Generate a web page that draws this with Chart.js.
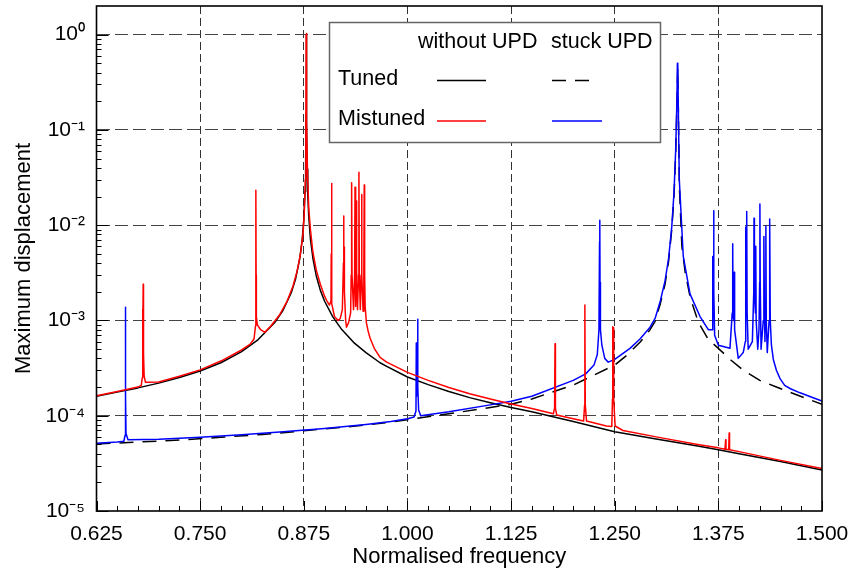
<!DOCTYPE html>
<html>
<head>
<meta charset="utf-8">
<script src="https://cdn.jsdelivr.net/npm/chart.js@4/dist/chart.umd.min.js"></script>
<style>
html,body{margin:0;padding:0;background:#fff;}
#c{display:block;}
</style>
</head>
<body>
<canvas id="c" width="851" height="573"></canvas>
<script>
// ---------------- data ----------------
// each point: [normalised frequency, maximum displacement]
const tunedWithoutUPD = [
  [0.625,1.6e-4],[0.65,1.77e-4],[0.675,1.96e-4],[0.7,2.2e-4],[0.725,2.52e-4],[0.75,2.95e-4],
  [0.775,3.6e-4],[0.8,4.7e-4],[0.82,6.3e-4],[0.84,9.5e-4],[0.85,1.28e-3],[0.86,1.97e-3],
  [0.865,2.7e-3],[0.87,4.4e-3],[0.873,6.9e-3],[0.875,1.13e-2],[0.8765,2.25e-2],[0.8772,4.0e-2],
  [0.8777,1.5e-1],[0.8781,1.0],[0.8785,1.2e-1],[0.879,3.9e-2],[0.8798,2.1e-2],[0.881,1.22e-2],
  [0.883,7.2e-3],[0.886,4.5e-3],[0.89,2.95e-3],[0.895,2.07e-3],[0.9,1.6e-3],[0.91,1.09e-3],
  [0.92,8.2e-4],[0.935,5.9e-4],[0.95,4.6e-4],[0.967,3.6e-4],[0.975,3.3e-4],[1.0,2.55e-4],
  [1.025,2.12e-4],[1.05,1.8e-4],[1.075,1.55e-4],[1.1,1.37e-4],[1.125,1.22e-4],[1.15,1.1e-4],
  [1.2,8.7e-5],[1.25,6.8e-5],[1.3,5.7e-5],[1.35,4.8e-5],[1.375,4.4e-5],[1.4,4.0e-5],
  [1.45,3.3e-5],[1.5,2.7e-5]
];
const mistunedWithoutUPD = [
  [0.625,1.62e-4],[0.65,1.8e-4],[0.675,2.0e-4],[0.679,2.08e-4],[0.6802,2.5e-4],[0.6805,1.3e-3],
  [0.6808,3.5e-4],[0.681,6e-4],[0.6813,2.4e-3],[0.6817,4.5e-4],[0.6825,2.6e-4],[0.684,2.25e-4],
  [0.7,2.26e-4],[0.725,2.6e-4],[0.75,3.03e-4],[0.775,3.75e-4],[0.8,4.9e-4],[0.81,5.6e-4],
  [0.815,6.4e-4],[0.8168,8.8e-4],[0.8171,3e-3],[0.8173,2.33e-2],[0.8175,3e-3],[0.8178,1.1e-3],
  [0.819,9e-4],[0.823,8.0e-4],[0.828,7.5e-4],[0.835,8.7e-4],[0.846,1.15e-3],[0.855,1.6e-3],
  [0.862,2.3e-3],[0.867,3.3e-3],[0.871,5.0e-3],[0.874,8.0e-3],[0.8755,1.3e-2],[0.8768,3.0e-2],
  [0.8775,1.0e-1],[0.8778,1.0],[0.878,2.5e-1],[0.8783,1.03],[0.8787,1.2e-1],[0.8795,3.5e-2],
  [0.881,1.5e-2],[0.883,9e-3],[0.886,5.2e-3],[0.89,3.4e-3],[0.895,2.4e-3],[0.9,1.8e-3],
  [0.903,1.6e-3],[0.906,1.45e-3],[0.9078,1.6e-3],[0.9081,5e-3],[0.9084,2.74e-2],[0.9087,4e-3],
  [0.909,1.5e-3],[0.912,1.1e-3],[0.9165,1.0e-3],[0.919,1.05e-3],[0.9215,1.3e-3],[0.9228,4e-3],
  [0.9231,1.25e-2],[0.9234,3e-3],[0.9237,5.9e-3],[0.924,2e-3],[0.9255,1.0e-3],[0.9265,8.5e-4],
  [0.929,9.5e-4],[0.9315,1.2e-3],[0.9322,3e-3],[0.9327,2.79e-2],[0.9332,3e-3],[0.935,1.3e-3],
  [0.9363,3e-3],[0.9368,2.5e-2],[0.9373,3e-3],[0.9378,1.4e-3],[0.938,3e-3],[0.9385,1.8e-2],
  [0.939,2.5e-3],[0.9398,1.3e-3],[0.941,3e-3],[0.9415,3.6e-2],[0.942,3e-3],[0.9432,1.3e-3],
  [0.9442,3e-3],[0.9447,2.1e-2],[0.9452,3e-3],[0.9465,1.25e-3],[0.9474,3e-3],[0.9479,2.65e-2],
  [0.9484,3e-3],[0.949,1.4e-3],[0.9505,9.5e-4],[0.9525,7.8e-4],[0.955,6.5e-4],[0.96,5.1e-4],
  [0.967,4.1e-4],[0.975,3.65e-4],[1.0,2.85e-4],[1.025,2.35e-4],[1.05,1.98e-4],[1.075,1.7e-4],
  [1.1,1.5e-4],[1.125,1.33e-4],[1.15,1.19e-4],[1.176,1.05e-4],[1.1775,1.2e-4],
  [1.178,5.7e-4],[1.1785,1.2e-4],[1.18,1.02e-4],[1.2,9.3e-5],[1.2125,8.8e-5],[1.2137,1.3e-4],
  [1.214,1.45e-3],[1.2145,1.3e-4],[1.216,8.8e-5],[1.24,7.8e-5],[1.2465,7.7e-5],[1.2473,1.5e-4],
  [1.2476,8.6e-4],[1.248,3e-4],[1.2485,8.4e-4],[1.249,1.5e-4],[1.2505,7.8e-5],[1.26,7.0e-5],
  [1.3,6.0e-5],[1.35,5.0e-5],[1.375,4.6e-5],[1.383,4.45e-5],[1.3838,5.6e-5],[1.3842,4.45e-5],
  [1.3875,4.4e-5],[1.388,6.6e-5],[1.3885,4.4e-5],[1.4,4.2e-5],[1.45,3.4e-5],[1.5,2.8e-5]
];
const tunedStuckUPD = [
  [0.625,5.05e-5],[0.675,5.3e-5],[0.725,5.55e-5],[0.775,5.95e-5],[0.825,6.35e-5],[0.875,6.95e-5],
  [0.925,7.6e-5],[0.975,8.45e-5],[1.0,9.1e-5],[1.05,1.05e-4],[1.1,1.22e-4],[1.125,1.32e-4],
  [1.15,1.5e-4],[1.2,2.1e-4],[1.25,3.4e-4],[1.2644,4.3e-4],[1.2805,5.9e-4],[1.2926,8.0e-4],
  [1.2987,9.8e-4],[1.305,1.5e-3],[1.3107,2.4e-3],[1.315,4.2e-3],[1.3188,9e-3],[1.3215,2.0e-2],
  [1.3235,5.5e-2],[1.325,1.8e-1],[1.326,4.5e-1],[1.3268,1.5e-1],[1.328,2.5e-2],[1.331,6e-3],
  [1.335,3.2e-3],[1.341,1.75e-3],[1.351,9.5e-4],[1.363,6.3e-4],[1.375,5.1e-4],[1.39,3.85e-4],
  [1.405,3.0e-4],[1.425,2.35e-4],[1.445,2.0e-4],[1.47,1.65e-4],[1.5,1.32e-4]
];
const mistunedStuckUPD = [
  [0.625,5.15e-5],[0.65,5.3e-5],[0.658,5.4e-5],[0.6594,6.2e-5],[0.6598,1.6e-4],[0.66,1.38e-3],
  [0.6602,1.6e-4],[0.6606,6.5e-5],[0.663,5.6e-5],[0.7,5.65e-5],[0.75,5.95e-5],[0.8,6.3e-5],
  [0.85,6.8e-5],[0.9,7.35e-5],[0.95,8.1e-5],[0.98,8.7e-5],[1.0,9.3e-5],[1.008,9.7e-5],
  [1.0103,1.12e-4],[1.0107,5.8e-4],[1.011,1.6e-4],[1.0118,2.0e-4],[1.0123,1.03e-3],[1.0127,2.0e-4],
  [1.0135,1.15e-4],[1.016,1.0e-4],[1.05,1.1e-4],[1.1,1.3e-4],[1.125,1.42e-4],[1.15,1.6e-4],
  [1.2,2.35e-4],[1.215,2.75e-4],[1.225,3.4e-4],[1.229,4.4e-4],[1.231,8e-4],[1.2317,6.7e-3],
  [1.232,1.13e-2],[1.2323,2.5e-3],[1.2328,8e-4],[1.2345,5.5e-4],[1.238,4.0e-4],[1.2422,3.65e-4],
  [1.25,3.9e-4],[1.2684,5.1e-4],[1.2805,6.4e-4],[1.2926,8.5e-4],[1.2987,1.05e-3],[1.305,1.6e-3],
  [1.3107,2.6e-3],[1.315,4.5e-3],[1.3188,9.6e-3],[1.3215,2.2e-2],[1.3235,6.0e-2],[1.325,2.0e-1],
  [1.3256,5.0e-1],[1.3259,3.0e-1],[1.3262,4.9e-1],[1.3266,2.0e-1],[1.3279,3.0e-2],[1.3327,4.7e-3],
  [1.3408,1.9e-3],[1.3529,1.1e-3],[1.3629,8.0e-4],[1.3675,8.0e-4],[1.368,4.7e-3],[1.3685,1.5e-3],
  [1.369,2e-3],[1.3693,1.42e-2],[1.3697,2e-3],[1.3705,7e-4],[1.375,5.5e-4],[1.389,5.1e-4],
  [1.3917,1.2e-3],[1.3923,6.4e-3],[1.3928,1.1e-3],[1.3938,1.0e-3],[1.3942,3.2e-3],[1.3946,8e-4],
  [1.399,4.0e-4],[1.405,4.6e-4],[1.4075,6e-4],[1.408,9.6e-3],[1.4085,1.5e-3],[1.4092,1.39e-2],
  [1.4097,1.2e-3],[1.411,5e-4],[1.416,6e-4],[1.4177,2e-3],[1.418,1.18e-2],[1.4185,2e-3],
  [1.4197,1.2e-3],[1.4201,6e-3],[1.4206,1e-3],[1.4225,5e-4],[1.424,8e-4],[1.4248,2.5e-3],
  [1.4251,1.67e-2],[1.4255,2.5e-3],[1.4265,5e-4],[1.4292,1e-3],[1.4299,7.6e-3],[1.4305,1.5e-3],
  [1.4312,6e-4],[1.4318,1.5e-3],[1.4323,9.8e-3],[1.4328,1e-3],[1.434,4.6e-4],[1.4362,1e-3],
  [1.4369,1.16e-2],[1.4376,1e-3],[1.439,5.5e-4],[1.4413,3.9e-4],[1.445,3.0e-4],[1.4494,2.45e-4],
  [1.455,2.08e-4],[1.462,1.92e-4],[1.4735,1.74e-4],[1.487,1.57e-4],[1.5,1.43e-4]
];

// ---------------- axes / labels ----------------
const xMajorTicks = [0.625, 0.75, 0.875, 1.0, 1.125, 1.25, 1.375, 1.5];
const xTickLabels = ['0.625','0.750','0.875','1.000','1.125','1.250','1.375','1.500'];
const xMinorPerMajor = 5;
const yDecadeExponents = [-5, -4, -3, -2, -1, 0];
const yTickLabels = ['10\u207B\u2075','10\u207B\u2074','10\u207B\u00B3','10\u207B\u00B2','10\u207B\u00B9','10\u2070'];
const yMinorMantissas = [2, 3, 4, 5, 6, 7, 8, 9];
const xTitle = 'Normalised frequency';
const yTitle = 'Maximum displacement';
const legendColumns = ['without UPD', 'stuck UPD'];
const legendRows = ['Tuned', 'Mistuned'];

// ---------------- helpers ----------------
const FONT = '"Liberation Sans", Arial, Helvetica, sans-serif';
const toPts = arr => arr.map(p => ({x: p[0], y: p[1]}));
const isXMajor = v => xMajorTicks.some(t => Math.abs(t - v) < 1e-9);
const isYMajor = v => { const l = Math.log10(v); return Math.abs(l - Math.round(l)) < 1e-9; };

const xTickValues = [];
for (let i = 0; i < xMajorTicks.length; i++) {
  xTickValues.push(xMajorTicks[i]);
  if (i < xMajorTicks.length - 1) {
    const step = (xMajorTicks[i + 1] - xMajorTicks[i]) / xMinorPerMajor;
    for (let k = 1; k < xMinorPerMajor; k++) xTickValues.push(+(xMajorTicks[i] + k * step).toFixed(6));
  }
}
const yTickValues = [];
yDecadeExponents.forEach(e => {
  yTickValues.push(Number('1e' + e));
  if (e < 0) yMinorMantissas.forEach(m => yTickValues.push(Number(m + 'e' + e)));
});

// ---------------- plugin: tick marks, frame, table legend ----------------
const frameTicksLegend = {
  id: 'frameTicksLegend',
  afterDraw(chart) {
    const {ctx, chartArea: a} = chart;
    const xs = chart.scales.x, ys = chart.scales.y;
    ctx.save();
    ctx.strokeStyle = '#000';
    ctx.lineWidth = 1;
    ctx.setLineDash([]);
    ctx.beginPath();
    xs.ticks.forEach(t => {
      const px = Math.round(xs.getPixelForValue(t.value)) + 0.5;
      const len = isXMajor(t.value) ? 10 : 5;
      ctx.moveTo(px, a.bottom); ctx.lineTo(px, a.bottom - len);
    });
    ys.ticks.forEach(t => {
      const py = Math.round(ys.getPixelForValue(t.value)) + 0.5;
      const len = isYMajor(t.value) ? 12 : 5;
      ctx.moveTo(a.left, py); ctx.lineTo(a.left + len, py);
    });
    ctx.stroke();
    ctx.lineWidth = 1.6;
    ctx.strokeRect(a.left, a.top, a.right - a.left, a.bottom - a.top);

    // legend table
    const bx = 329.5, by = 22.5, bw = 331, bh = 120;
    ctx.fillStyle = '#fff';
    ctx.fillRect(bx, by, bw, bh);
    ctx.strokeStyle = '#666';
    ctx.lineWidth = 1.5;
    ctx.strokeRect(bx, by, bw, bh);
    ctx.font = '21.5px ' + FONT;
    ctx.fillStyle = '#000';
    ctx.textBaseline = 'middle';
    ctx.textAlign = 'left';
    const colTextX = [418, 551];
    legendColumns.forEach((t, i) => ctx.fillText(t, colTextX[i], 42));
    const rowY = [79, 119];
    legendRows.forEach((t, i) => ctx.fillText(t, 338, rowY[i]));
    const sampleY = [80.5, 121];
    chart.data.datasets.forEach(ds => {
      const [r, c] = ds.legendCell;
      const [x0, x1] = ds.legendSpan;
      ctx.strokeStyle = ds.borderColor;
      ctx.lineWidth = ds.borderWidth;
      ctx.setLineDash(ds.borderDash || []);
      ctx.beginPath();
      ctx.moveTo(x0, sampleY[r]);
      ctx.lineTo(x1, sampleY[r]);
      ctx.stroke();
    });
    ctx.restore();
  }
};

Chart.defaults.font.family = FONT;
Chart.defaults.font.size = 21;
Chart.defaults.color = '#000';

new Chart(document.getElementById('c'), {
  type: 'line',
  data: {
    datasets: [
      {label: 'Mistuned without UPD', data: toPts(mistunedWithoutUPD), borderColor: '#ff0000', borderWidth: 1.5, legendCell: [1, 0], legendSpan: [437, 486]},
      {label: 'Mistuned stuck UPD', data: toPts(mistunedStuckUPD), borderColor: '#0000ff', borderWidth: 1.5, legendCell: [1, 1], legendSpan: [552, 602]},
      {label: 'Tuned without UPD', data: toPts(tunedWithoutUPD), borderColor: '#000000', borderWidth: 1.5, legendCell: [0, 0], legendSpan: [437, 486]},
      {label: 'Tuned stuck UPD', data: toPts(tunedStuckUPD), borderColor: '#000000', borderWidth: 1.5, borderDash: [14, 9], legendCell: [0, 1], legendSpan: [552, 598]}
    ]
  },
  options: {
    responsive: false,
    animation: false,
    devicePixelRatio: 1,
    layout: {padding: {left: 0, right: 29, top: 6, bottom: 0}},
    elements: {
      point: {radius: 0, hoverRadius: 0},
      line: {tension: 0, borderJoinStyle: 'round', fill: false}
    },
    plugins: {legend: {display: false}, tooltip: {enabled: false}},
    events: [],
    scales: {
      x: {
        type: 'linear',
        min: 0.625,
        max: 1.5,
        afterBuildTicks: s => { s.ticks = xTickValues.map(v => ({value: v, major: isXMajor(v)})); },
        afterFit: s => { s.height = 62; s.paddingLeft = 0; s.paddingRight = 0; },
        ticks: {
          autoSkip: false,
          maxRotation: 0,
          padding: 11,
          font: {size: 21},
          callback: v => { const i = xMajorTicks.findIndex(t => Math.abs(t - v) < 1e-9); return i >= 0 ? xTickLabels[i] : ''; }
        },
        grid: {
          drawTicks: false,
          lineWidth: 1,
          color: c => (c.tick && isXMajor(c.tick.value) && c.tick.value > 0.63 && c.tick.value < 1.49) ? '#333' : 'rgba(0,0,0,0)'
        },
        border: {display: false, dash: [8, 4]},
        title: {display: true, text: xTitle, font: {size: 22}, padding: {top: 0, bottom: 2.5}}
      },
      y: {
        type: 'logarithmic',
        min: 1e-5,
        max: 2,
        afterBuildTicks: s => { s.ticks = yTickValues.map(v => ({value: v, major: isYMajor(v)})); },
        afterFit: s => { s.width = 96.5; s.paddingTop = 0; s.paddingBottom = 0; },
        ticks: {
          autoSkip: false,
          padding: 11.5,
          font: {size: 21},
          callback: v => { if (!isYMajor(v)) return ''; const e = Math.round(Math.log10(v)); const i = yDecadeExponents.indexOf(e); return i >= 0 ? yTickLabels[i] : ''; }
        },
        grid: {
          drawTicks: false,
          lineWidth: 1,
          color: c => (c.tick && isYMajor(c.tick.value) && c.tick.value > 2e-5) ? '#444' : 'rgba(0,0,0,0)'
        },
        border: {display: false, dash: [13, 5]},
        title: {display: true, text: yTitle, font: {size: 22}, padding: {top: 10.5, bottom: 0}}
      }
    }
  },
  plugins: [frameTicksLegend]
});
</script>
</body>
</html>
